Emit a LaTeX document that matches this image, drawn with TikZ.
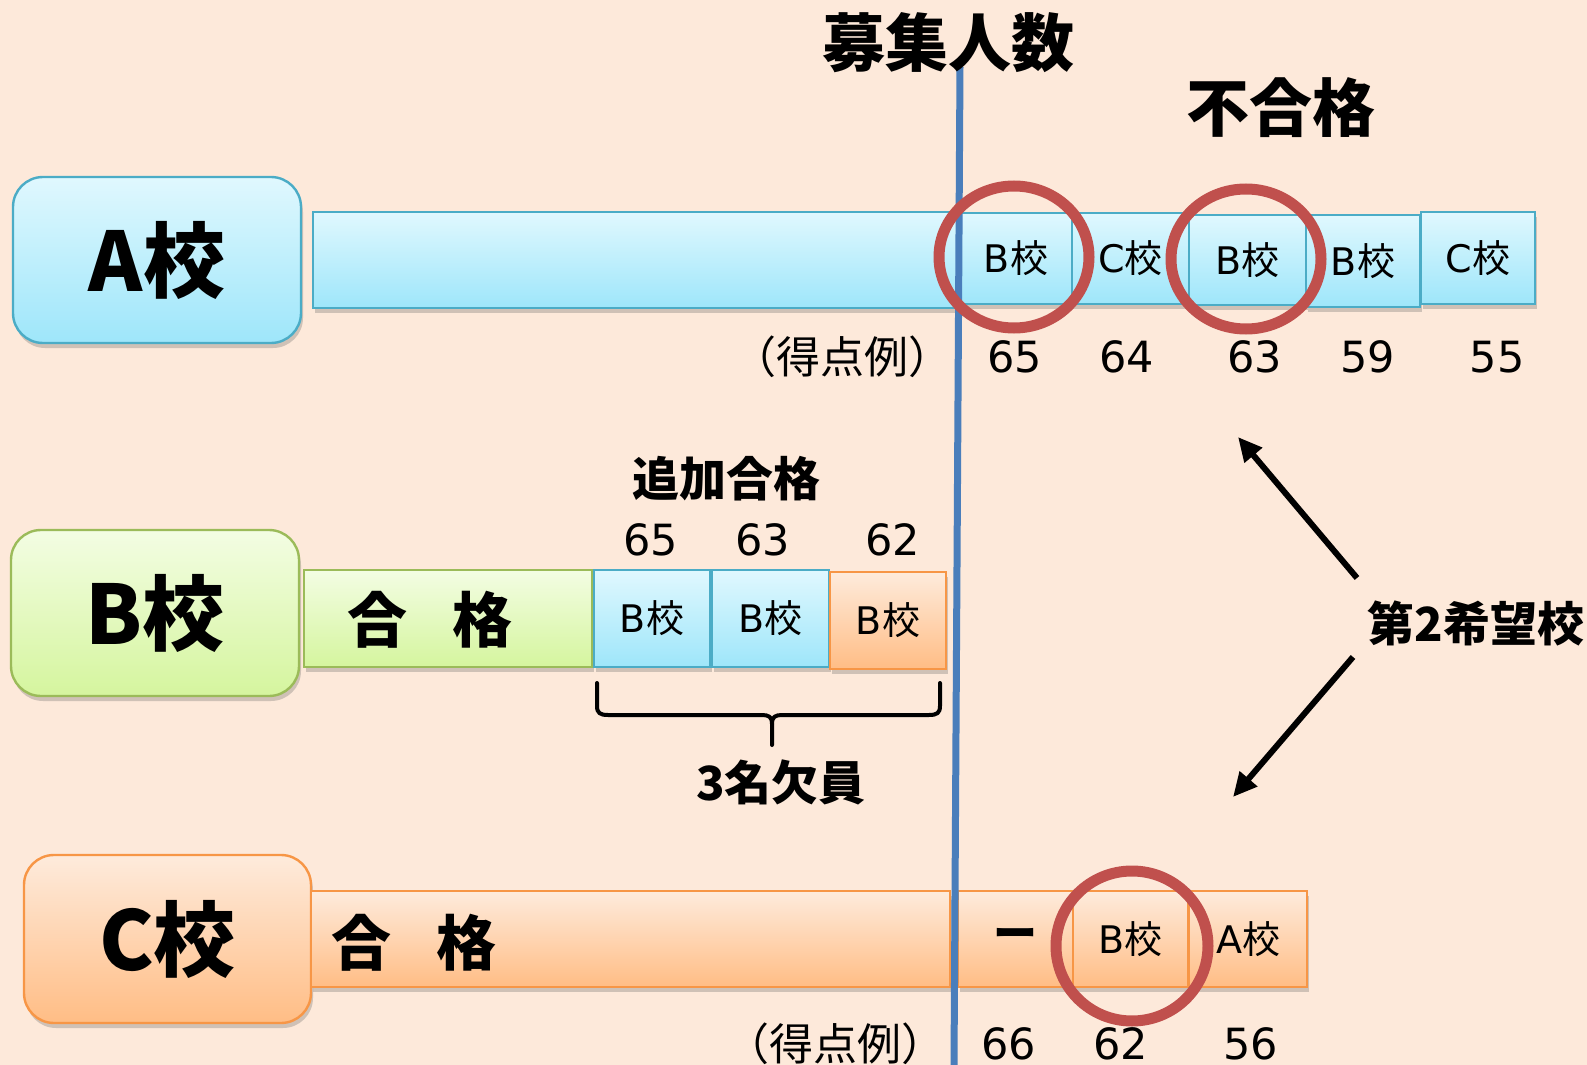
\documentclass[tikz,border=0pt]{standalone}
\usepackage{fontspec}
\setmainfont{Noto Sans CJK JP}
\newfontfamily\latfont{DejaVu Sans}
\newcommand\latn[1]{{\latfont #1}}
\usetikzlibrary{shadows,arrows.meta}
\definecolor{bgc}{RGB}{253,233,218}
\definecolor{bline}{RGB}{74,126,187}
\definecolor{bdraw}{RGB}{75,172,198}
\definecolor{btop}{RGB}{224,248,254}
\definecolor{bbot}{RGB}{158,230,250}
\definecolor{gdraw}{RGB}{155,187,89}
\definecolor{gtop}{RGB}{243,253,227}
\definecolor{gbot}{RGB}{213,245,158}
\definecolor{odraw}{RGB}{247,150,70}
\definecolor{otop}{RGB}{254,235,220}
\definecolor{obot}{RGB}{255,189,133}
\definecolor{ring}{RGB}{192,80,77}
\tikzset{
  shbox/.style={draw, line width=1pt, inner sep=0pt, anchor=center,
    drop shadow={shadow xshift=1pt, shadow yshift=-2.5pt, opacity=0.3, fill=black!60}},
  bluebox/.style={shbox, draw=bdraw, top color=btop, bottom color=bbot},
  greenbox/.style={shbox, draw=gdraw, top color=gtop, bottom color=gbot},
  orangebox/.style={shbox, draw=odraw, top color=otop, bottom color=obot},
  labbox/.style={rounded corners=15pt, line width=1.2pt,
    font=\fontsize{41}{41}\selectfont\bfseries},
  cell/.style={font=\fontsize{19}{19}\selectfont},
  num/.style={inner sep=0pt, font=\fontsize{21.5}{21.5}\selectfont\latfont},
  paren/.style={inner sep=0pt, font=\fontsize{22}{22}\selectfont},
  head/.style={inner sep=0pt, font=\fontsize{31.5}{31.5}\selectfont\bfseries},
  mid/.style={inner sep=0pt, font=\fontsize{23.5}{23.5}\selectfont\bfseries},
  pass/.style={inner sep=0pt, font=\fontsize{30}{30}\selectfont\bfseries},
  ringline/.style={draw=ring, line width=5.5pt},
  arr/.style={line width=3pt, -{Triangle[length=12pt,width=11pt]}},
  bracket/.style={line width=2pt, line cap=round, line join=round}
}
\begin{document}
\begin{tikzpicture}[x=0.5pt,y=-0.5pt]
\useasboundingbox (0,0) rectangle (1587,1065);
\fill[bgc] (0,0) rectangle (1587,1065);

% ---- A row ----
\node[bluebox,labbox,minimum width=144pt,minimum height=83pt] (labA) at (157,260) {A校};
\node[bluebox,minimum width=323.5pt,minimum height=48pt] (barA) at (636.5,260) {};
\node[bluebox,cell,minimum width=56pt,minimum height=45.5pt] (a1) at (1016,258.5) {\latn{B}校};
\node[bluebox,cell,minimum width=58.5pt,minimum height=45.5pt] (a2) at (1130.5,258.5) {\latn{C}校};
\node[bluebox,cell,minimum width=58.5pt,minimum height=45pt] (a3) at (1247.5,260) {\latn{B}校};
\node[bluebox,cell,minimum width=57pt,minimum height=46pt] (a4) at (1363,261) {\latn{B}校};
\node[bluebox,cell,minimum width=57pt,minimum height=46pt] (a5) at (1478,258) {\latn{C}校};

\node[paren] (exA) at (842,357) {（得点例）};
\node[num] (nA1) at (1015,357) {65};
\node[num] (nA2) at (1127,357) {64};
\node[num] (nA3) at (1255,357) {63};
\node[num] (nA4) at (1368,357) {59};
\node[num] (nA5) at (1497,357) {55};

% ---- B row ----
\node[greenbox,labbox,minimum width=144pt,minimum height=83pt] (labB) at (155,613) {B校};
\node[greenbox,minimum width=144pt,minimum height=48.5pt] (barB) at (448,618.5) {};
\node[pass] (passB) at (429.5,620) {合\hspace{0.75em}格};
\node[bluebox,cell,minimum width=58pt,minimum height=48.5pt] (b1) at (652,618.5) {\latn{B}校};
\node[bluebox,cell,minimum width=58.5pt,minimum height=48.5pt] (b2) at (770.5,618.5) {\latn{B}校};
\node[orangebox,cell,minimum width=58pt,minimum height=48.5pt] (b3) at (888,620.5) {\latn{B}校};

\node[mid] (tsuika) at (726,479) {追加合格};
\node[num] (nB1) at (651,540) {65};
\node[num] (nB2) at (763,540) {63};
\node[num] (nB3) at (893,540) {62};

\coordinate (brL) at (597,683);
\coordinate (brR) at (940,683);
\coordinate (brT) at (772,745);
\draw[bracket] (brL) -- (597,706) .. controls (597,713) and (600,715) .. (608,715)
  -- (762,715) .. controls (769,715) and (772,717) .. (772,724) -- (brT);
\draw[bracket] (brR) -- (940,706) .. controls (940,713) and (937,715) .. (929,715)
  -- (782,715) .. controls (775,715) and (772,717) .. (772,724);
\node[mid] (kekin) at (781,782) {3名欠員};

% ---- C row ----
\node[orangebox,labbox,minimum width=143.5pt,minimum height=84pt] (labC) at (167.5,939) {C校};
\node[orangebox,minimum width=319.5pt,minimum height=48pt] (barC) at (630.5,939) {};
\node[pass] (passC) at (413.5,943) {合\hspace{0.75em}格};
\node[orangebox,font=\fontsize{22}{22}\selectfont\bfseries,minimum width=57.5pt,minimum height=48pt] (c1) at (1015.5,939) {ー};
\node[orangebox,cell,minimum width=57.5pt,minimum height=48pt] (c2) at (1130.5,939) {\latn{B}校};
\node[orangebox,cell,minimum width=59pt,minimum height=48pt] (c3) at (1248,939) {\latn{A}校};

\node[paren] (exC) at (835,1044) {（得点例）};
\node[num] (nC1) at (1009,1044) {66};
\node[num] (nC2) at (1121,1044) {62};
\node[num] (nC3) at (1251,1044) {56};

% ---- capacity line ----
\coordinate (lineT) at (960,67);
\coordinate (lineB) at (954,1065);
\draw[bline, line width=3.5pt] (lineT) -- (lineB);
\node[head] (boshu) at (948,43) {募集人数};
\node[head] (fugo) at (1281,108) {不合格};

% ---- rings ----
\draw[ringline] (1014,257) ellipse [x radius=37.5pt, y radius=35.5pt];
\draw[ringline] (1246,259) ellipse [x radius=37.5pt, y radius=35pt];
\draw[ringline] (1132,946) ellipse [x radius=38pt, y radius=37.5pt];

% ---- second choice ----
\node[mid] (hope) at (1476,623) {第2希望校};
\coordinate (upS) at (1357,578);
\coordinate (upE) at (1238,437);
\coordinate (dnS) at (1353,657);
\coordinate (dnE) at (1233,797);
\draw[arr] (upS) -- (upE);
\draw[arr] (dnS) -- (dnE);
\end{tikzpicture}
\end{document}
